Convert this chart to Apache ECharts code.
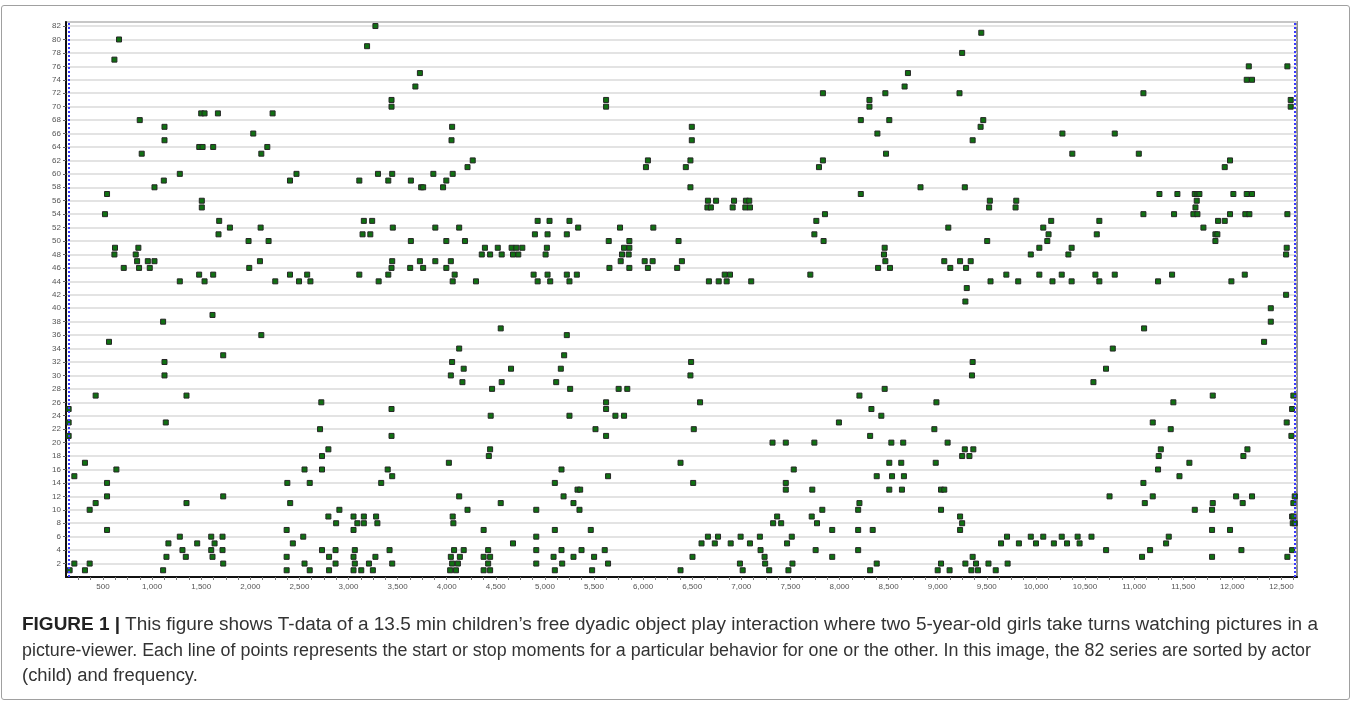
<!DOCTYPE html>
<html>
<head>
<meta charset="utf-8">
<script src="https://cdn.jsdelivr.net/npm/echarts@6/dist/echarts.min.js"></script>
<style>
  html, body { margin:0; padding:0; background:#fff; }
  #wrap { position:relative; width:1354px; height:706px; overflow:hidden; background:#fff; }
  #frame { position:absolute; left:1px; top:5px; width:1349px; height:695px; border:1px solid #a0a0a0; border-radius:3px; box-sizing:border-box; }
  #chart { position:absolute; left:0; top:0; width:1354px; height:706px; }
  .cap { position:absolute; left:22px; white-space:nowrap; font-family:"Liberation Sans", Arial, sans-serif; font-size:18px; color:#333; transform-origin:0 50%; line-height:20px; }
  .cap b { font-weight:bold; color:#222; }
</style>
</head>
<body>
<div id="wrap">
  <div id="chart"></div>
  <div id="frame"></div>
  <div class="cap" id="l1" style="top:614px"><b>FIGURE 1 |</b> This figure shows T-data of a 13.5 min children’s free dyadic object play interaction where two 5-year-old girls take turns watching pictures in a</div>
  <div class="cap" id="l2" style="top:640px">picture-viewer. Each line of points represents the start or stop moments for a particular behavior for one or the other. In this image, the 82 series are sorted by actor</div>
  <div class="cap" id="l3" style="top:665px">(child) and frequency.</div>
</div>
<script>
// ---- Data: [time (frames), series number] ----
const band1 = [[663,80],[616,77],[1500,69],[1534,69],[1670,69],[2227,69],[874,68],[1126,67],[2030,66],[1126,65],[1480,64],[1514,64],[1622,64],[2173,64],[894,63],[2112,63],[1282,60],[2470,60],[1119,59],[2404,59],[1024,58],[541,57],[1506,56],[1506,55],[520,54],[1683,53],[1792,52],[2105,52],[1676,51],[1982,50],[2186,50],[622,49],[860,49],[616,48],[833,48],[847,47],[956,47],[1024,47],[2098,47],[711,46],[867,46],[976,46],[1989,46],[1479,45],[1622,45],[2404,45],[1282,44],[1534,44],[2254,44],[2496,44],[1615,39],[1112,38],[2112,36],[561,35],[1724,33],[1126,32],[1126,30],[425,27],[1350,27],[150,25],[150,23],[150,21],[1139,23],[316,17],[636,16],[208,15],[541,14],[2377,14],[541,12],[1724,12],[425,11],[1350,11],[2406,11],[364,10],[541,7],[2370,7],[1282,6],[1602,6],[1717,6],[1166,5],[1459,5],[1636,5],[2433,5],[1309,4],[1602,4],[1717,4],[1146,3],[1343,3],[1615,3],[2370,3],[208,2],[364,2],[1724,2],[160,1],[316,1],[1112,1],[2370,1]];
const band2 = [[3274,82],[3189,79],[3727,75],[3681,73],[3438,71],[3438,70],[4055,67],[4049,65],[4265,62],[4212,61],[3110,59],[3300,60],[3405,59],[3445,60],[3635,59],[3740,58],[3760,58],[3864,60],[3963,58],[3996,59],[4061,60],[3156,53],[3241,53],[3143,51],[3222,51],[3451,52],[3884,52],[4127,52],[3635,50],[3996,50],[4186,50],[4389,49],[4520,49],[4357,48],[4442,48],[4560,48],[3445,47],[3727,47],[3884,47],[4042,47],[3438,46],[3628,46],[3760,46],[3996,46],[2579,45],[3110,45],[3405,45],[4081,45],[2612,44],[3307,44],[4061,44],[4298,44],[4550,37],[4127,34],[4055,32],[4173,31],[4042,30],[4160,29],[4462,28],[4560,29],[2723,26],[3438,25],[2710,22],[3438,21],[4448,24],[2795,19],[2730,18],[4442,19],[4429,18],[4022,17],[2552,16],[2730,16],[3399,16],[3445,15],[2605,14],[3333,14],[4127,12],[4550,11],[2907,10],[4212,10],[2795,9],[3051,9],[3156,9],[3281,9],[4061,9],[2874,8],[3090,8],[3156,8],[3294,8],[4068,8],[3051,7],[4376,7],[2539,6],[2730,4],[2868,4],[3064,4],[3418,4],[4075,4],[4173,4],[4422,4],[2802,3],[3051,3],[3274,3],[4042,3],[4134,3],[4376,3],[4442,3],[2552,2],[2868,2],[3064,2],[3208,2],[3445,2],[4055,2],[4114,2],[4422,2],[2605,1],[2802,1],[3051,1],[3130,1],[3248,1],[4035,1],[4094,1],[4376,1],[4442,1]];
const band3 = [[5623,71],[5623,70],[6496,67],[6496,65],[6049,62],[6029,61],[6482,62],[6435,61],[6482,58],[6660,56],[6655,55],[6690,55],[4926,53],[5047,53],[5250,53],[5339,52],[5765,52],[6104,52],[4898,51],[5027,51],[5223,51],[5650,50],[5860,50],[6361,50],[4661,49],[4709,49],[4770,49],[5020,49],[5806,49],[5860,49],[4675,48],[4729,48],[5007,48],[5785,48],[5853,48],[5772,47],[6016,47],[6097,47],[6395,47],[5657,46],[5860,46],[6049,46],[6347,46],[4885,45],[5027,45],[5223,45],[5325,45],[4926,44],[5054,44],[5250,44],[6670,44],[5223,36],[5196,33],[4655,31],[5162,31],[5115,29],[5257,28],[5751,28],[5839,28],[5623,26],[5623,25],[5250,24],[5718,24],[5806,24],[6580,26],[5515,22],[5623,21],[6516,22],[6489,32],[6482,30],[6381,17],[5169,16],[5643,15],[5101,14],[6510,14],[5332,13],[5359,13],[5190,12],[5291,11],[4912,10],[5352,10],[5101,7],[5467,7],[4912,6],[6660,6],[4675,5],[6595,5],[4912,4],[5169,4],[5373,4],[5609,4],[5088,3],[5291,3],[5501,3],[6503,3],[4912,2],[5176,2],[5643,2],[5101,1],[5481,1],[6381,1]];
const band4 = [[8697,75],[8663,73],[7831,72],[8467,72],[8305,71],[8305,70],[8217,68],[8507,68],[8386,66],[8474,63],[7831,62],[7791,61],[8217,57],[6743,56],[6926,56],[7047,56],[7081,56],[6912,55],[7041,55],[7088,55],[7852,54],[7764,53],[7744,51],[7838,50],[8460,49],[8453,48],[8467,47],[8393,46],[8514,46],[7703,45],[6831,45],[6885,45],[6770,44],[6851,44],[7101,44],[8460,28],[8203,27],[8325,25],[8426,24],[7994,23],[8312,21],[7318,20],[7453,20],[7744,20],[8528,20],[8649,20],[8507,17],[8629,17],[7534,16],[8379,15],[8535,15],[8656,15],[7453,14],[7453,13],[7723,13],[8507,13],[8636,13],[8203,11],[8190,10],[7825,10],[7365,9],[7717,9],[7324,8],[7406,8],[7771,8],[7926,7],[8190,7],[8338,7],[6763,6],[6993,6],[7189,6],[7514,6],[6730,5],[6892,5],[7088,5],[7466,5],[7196,4],[7757,4],[8190,4],[7237,3],[7926,3],[6986,2],[7243,2],[7521,2],[8379,2],[7014,1],[7284,1],[7480,1],[8312,1]];
const band5 = [[9444,81],[9249,78],[9222,72],[9464,68],[9437,67],[10270,66],[9356,65],[10371,63],[8825,58],[9276,58],[9531,56],[9524,55],[9800,56],[9793,55],[10156,53],[10646,53],[9108,52],[10075,52],[10129,51],[10620,51],[9504,50],[10116,50],[10035,49],[10364,49],[9948,48],[10331,48],[9067,47],[9228,47],[9336,47],[9128,46],[9289,46],[9699,45],[10035,45],[10263,45],[10606,45],[9538,44],[9820,44],[10169,44],[10364,44],[10646,44],[9296,43],[9282,41],[9356,32],[9349,30],[10714,31],[10586,29],[8987,26],[8966,22],[9101,20],[9276,19],[9363,19],[9249,18],[9323,18],[8980,17],[9034,13],[9067,13],[10750,12],[9034,10],[9228,9],[9249,8],[9228,7],[9706,6],[9948,6],[10075,6],[10263,6],[10425,6],[10566,6],[9645,5],[9827,5],[10001,5],[10183,5],[10317,5],[10445,5],[10715,4],[9356,3],[9034,2],[9282,2],[9390,2],[9517,2],[9712,2],[9000,1],[9121,1],[9343,1],[9410,1],[9591,1]];
const band6 = [[12168,76],[12561,76],[12147,74],[12201,74],[11095,72],[12595,71],[12595,70],[10803,66],[11048,63],[11977,62],[11923,61],[11258,57],[11441,57],[11618,57],[11645,57],[11665,57],[12011,57],[12147,57],[12201,57],[11638,56],[11625,55],[11095,54],[11407,54],[11604,54],[11645,54],[11977,54],[12133,54],[12174,54],[12561,54],[11855,53],[11923,53],[11706,52],[11828,51],[11848,51],[11828,50],[12554,49],[12548,48],[10803,45],[11387,45],[12127,45],[11244,44],[11991,44],[12548,42],[12392,40],[12392,38],[11102,37],[12324,35],[10783,34],[11801,27],[12622,27],[11400,26],[12609,25],[11190,23],[12554,23],[11373,22],[12602,21],[11272,19],[12154,19],[11251,18],[12113,18],[11563,17],[11244,16],[11462,15],[11095,14],[11190,12],[12039,12],[12201,12],[12636,12],[11109,11],[11801,11],[12106,11],[12622,11],[11618,10],[11794,10],[12609,9],[12622,9],[12616,8],[12636,8],[11794,7],[11977,7],[11353,6],[11326,5],[11163,4],[12093,4],[12609,4],[11081,3],[11794,3],[12561,3]];

// Observation bounds (blue dotted lines) and tick labels
const sessionBounds = [148, 12640];
const xLabelValues = [500,1000,1500,2000,2500,3000,3500,4000,4500,5000,5500,6000,6500,7000,7500,8000,8500,9000,9500,10000,10500,11000,11500,12000,12500];
const xRange = [123, 12659];
const yRange = [0, 82.6];

const xTickValues = [];
for (let v = 250; v <= 12625; v += 125) xTickValues.push(v);

const allPoints = [].concat(band1, band2, band3, band4, band5, band6);

const chart = echarts.init(document.getElementById('chart'), null, {renderer:'canvas'});
chart.setOption({
  animation: false,
  backgroundColor: '#fff',
  grid: { left: 66, right: 57, top: 22, bottom: 129, show: true, borderColor: '#8f8f8f', borderWidth: 2, backgroundColor: 'transparent' },
  xAxis: {
    type: 'value', min: xRange[0], max: xRange[1],
    axisLine: { show: true, lineStyle: { color: '#111', width: 2 } },
    axisTick: { show: true, customValues: xTickValues, length: 3, lineStyle: { color: '#777' } },
    axisLabel: { show: true, customValues: xLabelValues, fontSize: 8, color: '#555', margin: 6, fontFamily: 'Liberation Sans, Arial, sans-serif',
      formatter: v => Number(v).toLocaleString('en-US') },
    splitLine: { show: false }
  },
  yAxis: {
    type: 'value', min: yRange[0], max: yRange[1], interval: 2,
    axisLine: { show: true, lineStyle: { color: '#111', width: 2 } },
    axisTick: { show: true, length: 3, lineStyle: { color: '#666' } },
    axisLabel: { fontSize: 8, color: '#555', margin: 5, showMinLabel: false, showMaxLabel: false, fontFamily: 'Liberation Sans, Arial, sans-serif' },
    splitLine: { show: true, lineStyle: { color: '#dadada', width: 1.5 } }
  },
  series: [{
    type: 'scatter',
    data: allPoints,
    symbol: 'rect',
    symbolSize: 5,
    itemStyle: { color: '#107012', borderColor: '#262626', borderWidth: 1, opacity: 1 },
    markLine: {
      silent: true, symbol: 'none', label: { show: false },
      lineStyle: { color: '#3a3aff', type: 'dotted', width: 2 },
      data: sessionBounds.map(v => ({ xAxis: v }))
    },
    z: 3
  }]
});

// fit caption lines to the reference line widths
function fit() {
  const w1 = document.getElementById('l1').getBoundingClientRect().width;
  const w2 = document.getElementById('l2').getBoundingClientRect().width;
  const s1 = 1296 / w1, s2 = 1289 / w2;
  document.getElementById('l1').style.transform = 'scaleX(' + s1 + ')';
  document.getElementById('l2').style.transform = 'scaleX(' + s2 + ')';
  document.getElementById('l3').style.transform = 'scaleX(' + ((s1 + s2) / 2) + ')';
}
fit();
</script>
</body>
</html>
